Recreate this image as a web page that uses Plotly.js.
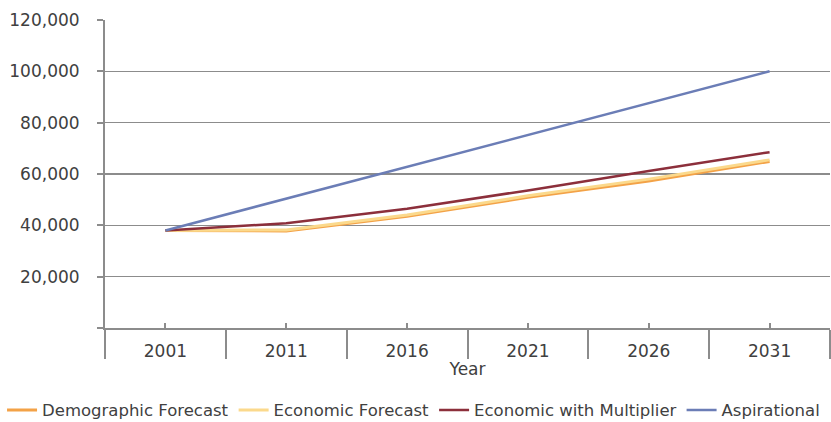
<!DOCTYPE html>
<html>
<head>
<meta charset="utf-8">
<script src="https://cdn.plot.ly/plotly-3.0.1.min.js"></script>
<style>
  html, body { margin: 0; padding: 0; background: #fff; }
  #chart { width: 831px; height: 422px; }
</style>
</head>
<body>
<div id="chart"></div>
<script>
// Population projections by scenario
const years = ['2001', '2011', '2016', '2021', '2026', '2031'];
const demographicForecast = [38000, 37800, 43500, 50900, 57300, 64900];
const economicForecast = [38000, 38200, 44000, 51500, 58000, 65500];
const economicWithMultiplier = [38000, 40800, 46500, 53600, 61200, 68500];
const aspirational = [38000, 50400, 62800, 75200, 87600, 100000];

const yTickVals = [0, 20000, 40000, 60000, 80000, 100000, 120000];
const yTickText = ['', '20,000', '40,000', '60,000', '80,000', '100,000', '120,000'];

const axisGrey = '#8c8c8c';
const textGrey = '#404040';
const font = 'DejaVu Sans, sans-serif';

function series(name, values, color, width, xaxis) {
  return {
    type: 'scatter', mode: 'lines', name: name,
    x: years, y: values, xaxis: xaxis || 'x',
    line: { color: color, width: width }
  };
}

// The last series sits on an overlaid copy of the year axis, which carries
// the short centre ticks; the base axis carries the long separator ticks.
const traces = [
  series('Demographic Forecast', demographicForecast, '#f3a247', 3),
  series('Economic Forecast', economicForecast, '#fbd98c', 3),
  series('Economic with Multiplier', economicWithMultiplier, '#8c2f3b', 2.5),
  series('Aspirational', aspirational, '#6b7db6', 2.5, 'x2')
];

const layout = {
  width: 831, height: 422,
  margin: { l: 105, r: 1, t: 20, b: 94, autoexpand: false },
  paper_bgcolor: '#fff', plot_bgcolor: '#fff',
  font: { family: font, size: 17, color: textGrey },
  showlegend: true,
  legend: {
    orientation: 'h',
    x: -0.142, xanchor: 'left',
    y: -0.21, yanchor: 'top',
    font: { size: 16.5, color: textGrey },
    itemwidth: 30, tracegroupgap: 0
  },
  xaxis: {
    type: 'category',
    range: [-0.5, years.length - 0.5],
    showgrid: false, zeroline: false,
    showline: true, linecolor: axisGrey, linewidth: 2,
    tickson: 'boundaries',
    ticks: 'outside', ticklen: 29, tickwidth: 2, tickcolor: axisGrey,
    ticklabelstandoff: 7,
    tickfont: { size: 17, color: textGrey },
    title: { text: 'Year', font: { size: 17, color: textGrey }, standoff: 3 }
  },
  xaxis2: {
    type: 'category',
    overlaying: 'x', anchor: 'y', side: 'bottom',
    range: [-0.5, years.length - 0.5],
    showticklabels: false, showgrid: false, zeroline: false, showline: false,
    ticks: 'inside', ticklen: 5, tickwidth: 2, tickcolor: axisGrey
  },
  yaxis: {
    range: [0, 120000],
    tickmode: 'array', tickvals: yTickVals, ticktext: yTickText,
    showgrid: true, gridcolor: axisGrey, gridwidth: 1.5,
    zeroline: false,
    showline: true, linecolor: axisGrey, linewidth: 2,
    ticks: 'outside', ticklen: 6, tickwidth: 2, tickcolor: axisGrey,
    ticklabelstandoff: 14,
    tickfont: { size: 17, color: textGrey }
  }
};

Plotly.newPlot('chart', traces, layout, { displayModeBar: false, staticPlot: true });
</script>
</body>
</html>
